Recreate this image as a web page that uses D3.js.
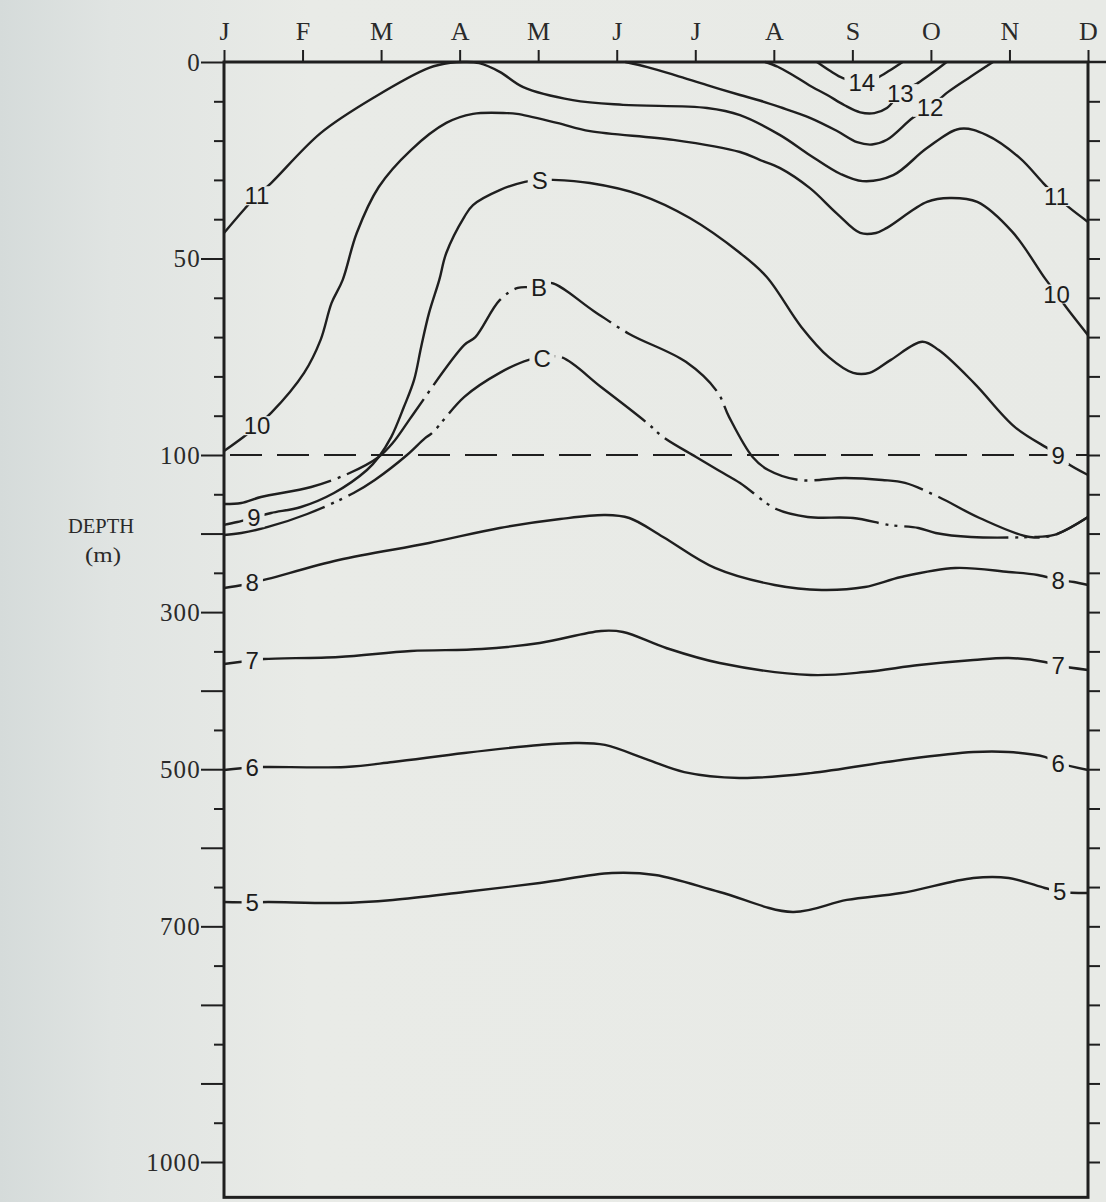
<!DOCTYPE html>
<html><head><meta charset="utf-8">
<script src="https://cdn.jsdelivr.net/npm/d3@7"></script>
<style>
html,body{margin:0;padding:0;background:#e9ebe7;}
svg{display:block;}
</style></head><body>
<svg id="chart" width="1106" height="1202"></svg>
<script>
// ---------------- DATA (month index 0=J .. 11=D, depth in m) ----------------
const months = ["J","F","M","A","M","J","J","A","S","O","N","D"];
const depthLabels = [0,50,100,300,500,700,1000];
const majorTicks = [0,50,100,200,300,400,500,600,700,800,900,1000];
const minorTicks = [10,20,30,40,60,70,80,90,150,250,350,450,550,650,750,850,950];
const referenceDepth = 100;
const bottomDepth = 1045;

const iso14 = [[7.55,0],[7.72,2.3],[7.88,4.1],[8.12,5.2],[8.31,4.1],[8.48,2.1],[8.64,0]];
const iso13 = [[6.89,0],[7.05,1.2],[7.24,3.3],[7.45,5.9],[7.68,8.4],[7.9,11.0],[8.10,12.8],[8.28,13.0],[8.44,11.7],[8.61,8.0],[8.86,5.0],[9.05,2.3],[9.2,0]];
const iso12 = [[5.11,0],[5.39,1.3],[5.75,3.4],[6.15,5.9],[6.57,8.4],[6.82,9.8],[7.08,11.5],[7.46,14.2],[7.8,17.5],[8.06,20.4],[8.25,21.0],[8.44,19.8],[8.77,14.2],[8.99,11.5],[9.22,7.6],[9.5,3.8],[9.79,0]];
const iso11 = [[0,43.5],[0.27,37.2],[0.42,34.0],[0.60,30.8],[1.23,18.1],[1.92,8.9],[2.61,1.5],[2.88,0.2],[3.07,0],[3.25,0.3],[3.51,2.5],[3.81,6.4],[4.44,9.7],[5.08,10.9],[6.15,11.7],[6.57,13.5],[7.08,18.6],[7.46,23.7],[7.85,28.5],[8.13,30.3],[8.52,28.8],[8.95,21.9],[9.37,17.0],[9.71,18.6],[10.13,24.4],[10.43,30.8],[10.60,34.2],[10.77,37.2],[11,40.7]];
const iso10 = [[0,99],[0.28,94.9],[0.42,92.5],[0.60,89.3],[1.02,79.1],[1.23,70.7],[1.37,61.3],[1.51,55.5],[1.69,43.5],[1.97,31.8],[2.38,22.4],[2.83,15.5],[3.17,13.2],[3.60,13.0],[3.73,13.2],[4.24,15.5],[4.66,17.6],[5.72,19.8],[6.57,22.9],[6.82,24.9],[7.08,27.0],[7.46,32.1],[7.8,38.5],[8.10,43.5],[8.30,43.5],[8.44,42.2],[8.95,35.6],[9.24,34.6],[9.59,35.6],[10.04,43.3],[10.45,55.0],[10.60,59.0],[10.73,62.6],[11,69.5]];
const iso9 = [[0,189],[0.17,185.3],[0.38,179.7],[0.60,173.8],[0.98,166.2],[1.40,148.4],[1.82,119.1],[1.97,102.5],[2.13,95.4],[2.29,87.8],[2.42,80.9],[2.51,72.5],[2.61,63.9],[2.74,55.5],[2.83,48.6],[3.06,39.4],[3.17,36.4],[3.51,32.6],[3.83,30.5],[4.02,30.0],[4.19,30.0],[4.66,30.8],[5.30,33.8],[5.93,39.7],[6.57,48.6],[6.91,54.7],[7.35,67.4],[7.70,75.1],[8.01,79.1],[8.22,79.1],[8.49,75.8],[8.89,71.2],[9.10,73.3],[9.55,81.7],[10.07,92.9],[10.52,98.7],[10.62,100.5],[10.73,110.2],[11,125.5]];
const lineB = [[0,162.4],[0.22,161.1],[0.47,153.5],[1.11,140.7],[1.60,122.9],[1.97,102.5],[2.15,96.9],[2.33,91.9],[2.42,89.3],[3.06,72.0],[3.20,70.0],[3.51,60.6],[3.74,57.5],[4.01,57.3],[4.16,56.2],[4.71,63.4],[5.16,69.2],[5.88,76.3],[6.28,83.9],[6.43,90.3],[6.73,102.5],[6.93,119.1],[7.32,131.8],[7.91,129.3],[8.38,131.8],[8.67,135.6],[9.10,153.5],[9.62,180.2],[10.26,204.4],[10.57,201.8],[11,178.9]];
const lineC = [[0,201.8],[0.22,199.3],[0.56,191.6],[1.06,175.1],[1.65,148.4],[1.92,131.8],[2.33,100],[2.56,95.7],[2.65,94.4],[3.06,85.2],[3.51,79.1],[3.88,75.8],[4.05,75.3],[4.29,75.1],[4.80,82.7],[5.39,91.9],[5.59,95.4],[6.01,102.5],[6.31,120.4],[6.57,135.6],[7.03,168.7],[7.43,178.9],[8.01,180.2],[8.47,189.1],[8.84,192.9],[9.06,199.3],[9.51,204.4],[10.26,204.4],[10.57,201.8],[11,178.9]];
const iso8 = [[0,269.3],[0.24,265.5],[0.36,262.6],[0.56,257.8],[1.46,233.7],[2.61,212.0],[3.51,192.9],[4.28,181.5],[4.85,176.4],[5.16,180.2],[5.59,204.4],[6.25,243.8],[7.01,265.5],[7.61,271.8],[8.16,268.0],[8.62,255.3],[9.31,243.8],[9.99,248.9],[10.36,252.7],[10.62,259.1],[10.82,261.7],[11,265.5]];
const iso7 = [[0,366],[0.36,361.5],[0.51,359.7],[1.46,357.1],[2.38,349.5],[3.28,347.0],[4.02,339.3],[4.80,324.0],[5.08,325.3],[5.63,345.7],[6.31,364.8],[7.47,380.0],[8.16,376.3],[8.85,367.4],[9.54,361.0],[9.99,358.4],[10.45,363.5],[10.62,368],[11,373.7]];
const iso6 = [[0,501],[0.36,497.5],[0.56,497.1],[1.55,497.1],[2.15,490.8],[3.06,479.3],[4.02,469.1],[4.48,466.6],[4.85,469.1],[5.40,488.2],[5.86,503.6],[6.56,511.1],[7.47,504.9],[8.62,488.2],[9.54,478.1],[9.99,478.1],[10.45,484.4],[10.62,492],[11,501]];
const iso5 = [[0,669],[0.36,669.5],[0.56,669],[1.46,670.3],[2.15,666.4],[3.06,656.3],[4.02,644.8],[4.94,632.1],[5.49,634.7],[6.31,656.3],[7.24,681.7],[7.93,666.4],[8.62,657.6],[9.54,638.5],[9.99,638.5],[10.45,651.2],[10.64,656],[11,657.6]];

// label text and the month position where it sits on its line
const labels14 = [["14",8.12]];
const labels13 = [["13",8.61]];
const labels12 = [["12",8.99]];
const labels11 = [["11",0.42],["11",10.60]];
const labels10 = [["10",0.42],["10",10.60]];
const labels9  = [["9",0.38],["S",4.02],["9",10.62]];
const labelsB  = [["B",4.01]];
const labelsC  = [["C",4.05]];
const labels8  = [["8",0.36],["8",10.62]];
const labels7  = [["7",0.36],["7",10.62]];
const labels6  = [["6",0.36],["6",10.62]];
const labels5  = [["5",0.36],["5",10.64]];

// ---------------- DRAWING ----------------
const W = 1106, H = 1202;
const INK = "#1f1f1f";
const TYPE = "'Liberation Serif','DejaVu Serif',serif";
const svg = d3.select("#chart");
const defs = svg.append("defs");
const grad = defs.append("linearGradient").attr("id","bg").attr("x1",0).attr("x2",1).attr("y1",0).attr("y2",0);
[[0,"#d5dbda"],[0.1,"#e0e4e2"],[0.28,"#e9ebe7"],[1,"#e8eae6"]].forEach(s=>grad.append("stop").attr("offset",s[0]).attr("stop-color",s[1]));
svg.append("rect").attr("width",W).attr("height",H).attr("fill","url(#bg)");

const x = d3.scaleLinear().domain([0,11]).range([224,1088]);
const y = d3.scaleLinear().domain([0,100,1000]).range([62,455,1162]);

// axes
function styleAxis(g){
  g.select(".domain").remove();
  g.selectAll(".tick line").attr("stroke",INK).attr("stroke-width",2);
  g.selectAll(".tick text").attr("fill","#2a2a2a").attr("font-family",TYPE);
}
const gTop = svg.append("g").attr("transform",`translate(0,${y(0)})`)
  .call(d3.axisTop(x).tickValues(d3.range(12)).tickFormat(i=>months[i]).tickSize(12).tickPadding(10));
styleAxis(gTop);
gTop.selectAll(".tick text").attr("font-size",26);

const gLeftMinor = svg.append("g").attr("transform",`translate(${x(0)},0)`)
  .call(d3.axisLeft(y).tickValues(minorTicks).tickSize(10).tickFormat(""));
styleAxis(gLeftMinor);
const gLeft = svg.append("g").attr("transform",`translate(${x(0)},0)`)
  .call(d3.axisLeft(y).tickValues(majorTicks).tickSize(23).tickPadding(0)
        .tickFormat(d=>depthLabels.includes(d)?String(d):""));
styleAxis(gLeft);
gLeft.selectAll(".tick text").attr("font-size",25).attr("letter-spacing",1.2);

const gRight = svg.append("g").attr("transform",`translate(${x(11)},0)`)
  .call(d3.axisRight(y).tickValues(majorTicks.concat(minorTicks).filter(d=>d>0)).tickSize(12).tickFormat(""));
styleAxis(gRight);

// frame
svg.append("rect").attr("x",x(0)).attr("y",y(0)).attr("width",x(11)-x(0)).attr("height",y(bottomDepth)-y(0))
  .attr("fill","none").attr("stroke",INK).attr("stroke-width",3);
svg.append("line").attr("x1",x(11)).attr("x2",W).attr("y1",y(0)).attr("y2",y(0)).attr("stroke",INK).attr("stroke-width",2.5);

// axis title
const title = svg.append("g").attr("fill","#2a2a2a").attr("font-family",TYPE).attr("font-size",22);
title.append("text").attr("x",68).attr("y",533).attr("textLength",66).attr("lengthAdjust","spacingAndGlyphs").text("DEPTH");
title.append("text").attr("x",85).attr("y",562).attr("textLength",36).attr("lengthAdjust","spacingAndGlyphs").text("(m)");

// series
const series = [
  {data:iso14,labels:labels14},{data:iso13,labels:labels13},{data:iso12,labels:labels12},
  {data:iso11,labels:labels11},{data:iso10,labels:labels10},{data:iso9,labels:labels9},
  {data:lineB,labels:labelsB,dash:"110,7,3,7"},{data:lineC,labels:labelsC,dash:"105,7,3,6,3,7"},
  {data:iso8,labels:labels8},{data:iso7,labels:labels7},{data:iso6,labels:labels6},{data:iso5,labels:labels5}
];
function depthAt(data,t){
  for(let i=0;i<data.length-1;i++){
    const a=data[i],b=data[i+1];
    if(t>=a[0]&&t<=b[0]){const f=(t-a[0])/(b[0]-a[0]);return a[1]+f*(b[1]-a[1]);}
  }
  return data[data.length-1][1];
}
const linesG = svg.append("g").attr("mask","url(#gaps)");
const labelsG = svg.append("g");
const gapRects = [];
series.forEach(s=>{
  s.labels.forEach(([txt,t])=>{
    const tx = labelsG.append("text").attr("x",x(t)).attr("y",y(depthAt(s.data,t)))
      .attr("dy","0.36em").attr("text-anchor","middle").attr("fill","#1c1c1c")
      .attr("font-family","'Liberation Sans Narrow','Liberation Sans',Arial,sans-serif")
      .attr("font-size",24).text(txt);
    const bb = tx.node().getBBox();
    gapRects.push({x:bb.x-4,y:bb.y+4,w:bb.width+8,h:bb.height-8});
  });
});
const mask = defs.append("mask").attr("id","gaps").attr("maskUnits","userSpaceOnUse")
  .attr("x",0).attr("y",0).attr("width",W).attr("height",H);
mask.append("rect").attr("width",W).attr("height",H).attr("fill","white");
gapRects.forEach(r=>mask.append("rect").attr("x",r.x).attr("y",r.y).attr("width",r.w).attr("height",r.h).attr("fill","black"));

// 100 m reference line
linesG.append("line").attr("x1",x(0)+6).attr("x2",x(11)).attr("y1",y(referenceDepth)).attr("y2",y(referenceDepth))
  .attr("stroke",INK).attr("stroke-width",2).attr("stroke-dasharray","32,15");

const line = d3.line().x(d=>x(d[0])).y(d=>y(d[1])).curve(d3.curveCatmullRom.alpha(0.5));
series.forEach(s=>{
  linesG.append("path").attr("d",line(s.data)).attr("fill","none").attr("stroke",INK)
    .attr("stroke-width",2.4).attr("stroke-linejoin","round")
    .attr("stroke-dasharray",s.dash||null);
});
</script>
</body></html>
